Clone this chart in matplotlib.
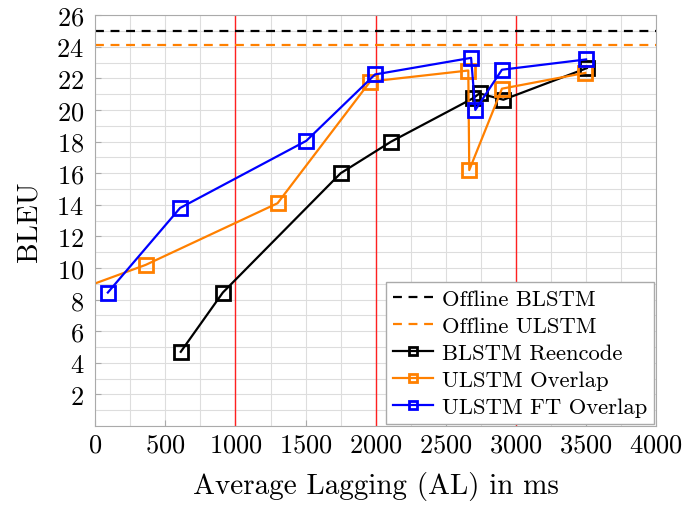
import numpy as np
import matplotlib.pyplot as plt
from matplotlib.ticker import MultipleLocator

plt.rcParams['font.family'] = 'serif'
plt.rcParams['font.serif'] = ['cmr10', 'DejaVu Serif']
plt.rcParams['mathtext.fontset'] = 'cm'
plt.rcParams['axes.formatter.use_mathtext'] = True

# offline baselines
offline_blstm = 25.0
offline_ulstm = 24.1

# BLSTM Reencode
blstm_x = [610, 910, 1750, 2110, 2695, 2740, 2910, 3505]
blstm_y = [4.7, 8.45, 16.0, 18.0, 20.75, 21.05, 20.65, 22.65]

# ULSTM Overlap (first point lies left of the axis)
ulstm_x = [-300, 360, 1300, 1960, 2660, 2667, 2900, 3495]
ulstm_y = [8.05, 10.2, 14.1, 21.8, 22.5, 16.2, 21.35, 22.35]

# ULSTM FT Overlap
ft_x = [90, 605, 1505, 1995, 2680, 2710, 2900, 3500]
ft_y = [8.45, 13.8, 18.05, 22.25, 23.3, 20.0, 22.55, 23.2]

red_lines = [1000, 2000, 3000]

fig = plt.figure(figsize=(6.85, 5.06), dpi=100)
ax = fig.add_axes([0.139, 0.156, 0.819, 0.812])

ax.set_xlim(0, 4000)
ax.set_ylim(0, 26)
ax.xaxis.set_major_locator(MultipleLocator(500))
ax.xaxis.set_minor_locator(MultipleLocator(250))
ax.yaxis.set_minor_locator(MultipleLocator(1))
ax.set_yticks(np.arange(2, 27, 2))
ax.grid(which='both', color='#dddddd', linewidth=0.8)
ax.set_axisbelow(True)
for s in ax.spines.values():
    s.set_color('#aaaaaa')
ax.tick_params(which='both', direction='in', color='#aaaaaa', labelsize=19)
ax.tick_params(which='major', length=4)
ax.tick_params(which='minor', length=0)
ax.tick_params(axis='x', pad=5)
ax.tick_params(axis='y', pad=8)

for xv in red_lines:
    ax.axvline(xv, color='#ff2020', linewidth=1.0)

ax.axhline(offline_blstm, color='black', linestyle=(0, (4, 3)), linewidth=1.6, label='Offline BLSTM')
ax.axhline(offline_ulstm, color='#ff8000', linestyle=(0, (4, 3)), linewidth=1.6, label='Offline ULSTM')

mk = dict(marker='s', markersize=10, fillstyle='none', markeredgewidth=2, linewidth=1.6)
ax.plot(blstm_x, blstm_y, color='black', label='BLSTM Reencode', **mk)
ax.plot(ulstm_x, ulstm_y, color='#ff8000', label='ULSTM Overlap', **mk)
ax.plot(ft_x, ft_y, color='#0000ff', label='ULSTM FT Overlap', **mk)

ax.set_xlabel('Average Lagging (AL) in ms', fontsize=21, labelpad=10)
ax.set_ylabel('BLEU', fontsize=21, labelpad=10)

leg = ax.legend(loc='lower right', fontsize=16.3, fancybox=False, framealpha=1,
                edgecolor='#aaaaaa', handlelength=1.75, handletextpad=0.4,
                borderpad=0.3, labelspacing=0.32, borderaxespad=0.1,
                markerscale=0.6)

fig.savefig('out.png', dpi=100)
